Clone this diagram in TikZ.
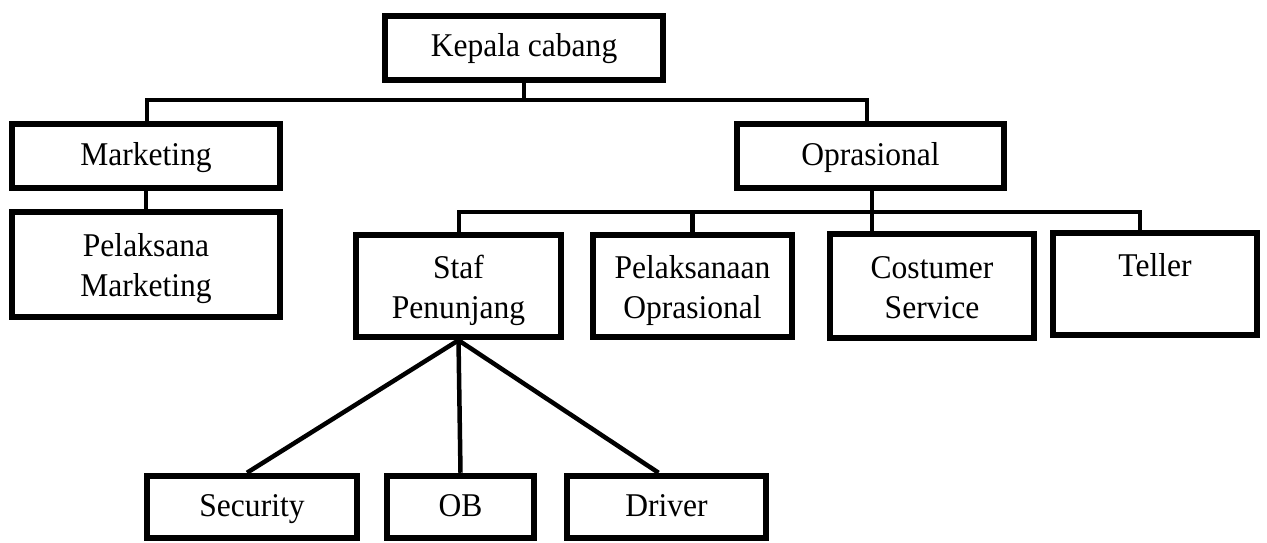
\documentclass[tikz,border=0pt]{standalone}
\usepackage{fontspec}
\setmainfont[FakeStretch=0.95]{Liberation Serif}
\newcommand{\onestrut}{\rule[-10pt]{0pt}{38pt}}
\newcommand{\twostrut}{\rule[-8pt]{0pt}{40pt}}
\begin{document}
\begin{tikzpicture}[x=1pt,y=-1pt,
  box/.style={draw, line width=6.5pt, inner sep=0pt, align=center,
    font=\fontsize{33.2}{40}\selectfont},
  conn/.style={line width=4.5pt, line join=miter}]
\useasboundingbox (0,0) rectangle (1267,543);
\node[box, minimum width=278pt, minimum height=64pt] (kc) at (524,48) {Kepala cabang\onestrut};
\node[box, minimum width=268pt, minimum height=64pt] (mk) at (146,156) {Marketing\onestrut};
\node[box, minimum width=268pt, minimum height=105pt] (pm) at (146,264.5) {Pelaksana\twostrut\\Marketing\twostrut};
\node[box, minimum width=267pt, minimum height=64pt] (op) at (870.5,156) {Oprasional\onestrut};
\node[box, minimum width=205pt, minimum height=102pt] (sp) at (458.5,286) {Staf\twostrut\\Penunjang\twostrut};
\node[box, minimum width=199pt, minimum height=102pt] (po) at (692.5,286) {Pelaksanaan\twostrut\\Oprasional\twostrut};
\node[box, minimum width=204pt, minimum height=104pt] (cs) at (932,286) {Costumer\twostrut\\Service\twostrut};
\node[box, minimum width=204pt, minimum height=102pt] (tl) at (1155,284) {Teller\twostrut\\\twostrut};
\node[box, minimum width=210pt, minimum height=62pt] (se) at (252,507) {Security\onestrut};
\node[box, minimum width=147pt, minimum height=62pt] (ob) at (460.5,507) {OB\onestrut};
\node[box, minimum width=199pt, minimum height=62pt] (dr) at (666.5,507) {Driver\onestrut};
% level 1 connectors
\coordinate (l1) at (147,100);
\coordinate (r1) at (867,100);
\draw[conn] (kc.south) -- (kc.south |- l1);
\draw[conn] (mk.north -| l1) -- (l1) -- (r1) -- (op.north -| r1);
\draw[conn] (mk.south) -- (pm.north);
% level 2 connectors
\coordinate (l2) at (459,212);
\coordinate (r2) at (1140,212);
\coordinate (c2) at (872,212);
\draw[conn] (sp.north -| l2) -- (l2) -- (r2) -- (tl.north -| r2);
\draw[conn] (op.south -| c2) -- (cs.north -| c2);
\draw[conn] (po.north) -- (po.north |- l2);
% staf penunjang children
\draw[conn] (sp.south) -- ([xshift=-5pt]se.north);
\draw[conn] (sp.south) -- (ob.north);
\draw[conn] (sp.south) -- ([xshift=-8pt]dr.north);
\end{tikzpicture}
\end{document}
